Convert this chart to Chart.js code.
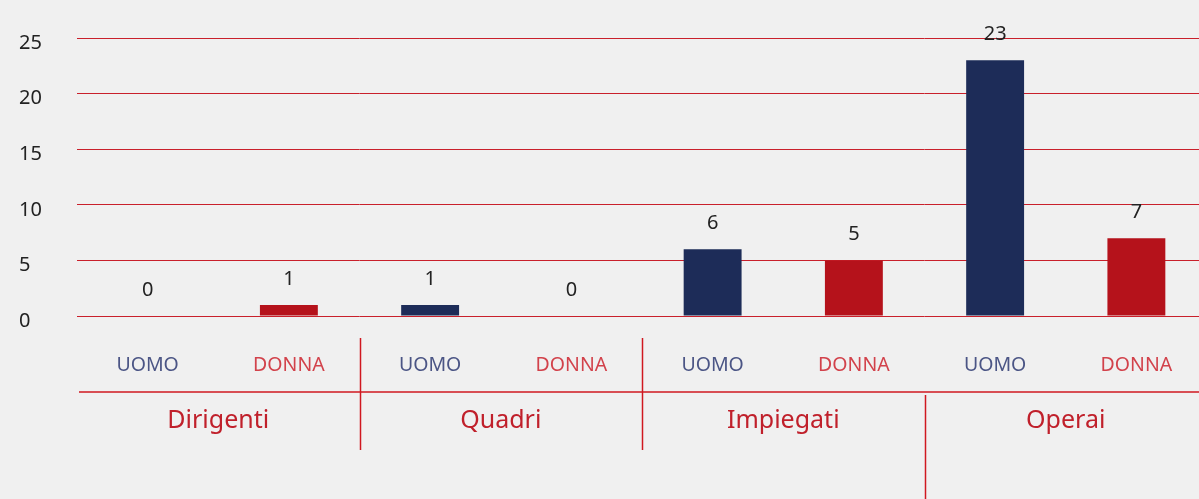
<!DOCTYPE html>
<html>
<head>
<meta charset="utf-8">
<script src="https://cdn.jsdelivr.net/npm/chart.js@4.4.1/dist/chart.umd.min.js"></script>
<style>
  html, body { margin: 0; padding: 0; background: #f0f0f0; overflow: hidden; }
  #wrap { width: 1210px; height: 499px; }
</style>
</head>
<body>
<div id="wrap"><canvas id="staffChart" width="1210" height="499"></canvas></div>
<script>
// Dati del grafico
const groups = ['Dirigenti', 'Quadri', 'Impiegati', 'Operai'];
const sexes = ['UOMO', 'DONNA'];
const uomo = [0, 1, 6, 23];
const donna = [1, 0, 5, 7];
const yTicks = [0, 5, 10, 15, 20, 25];

const navy = '#1d2c58';
const red = '#b5121b';
const lineRed = '#c9202b';

// etichette e valori alternati uomo/donna
const labels = [];
const values = [];
const colors = [];
groups.forEach((g, i) => {
    labels.push(sexes[0]); values.push(uomo[i]); colors.push(navy);
    labels.push(sexes[1]); values.push(donna[i]); colors.push(red);
});

const font = '"Noto Sans", sans-serif';

// disegna valori, etichette asse x e separatori
const extrasPlugin = {
    id: 'extras',
    afterDatasetsDraw(chart) {
        const ctx = chart.ctx;
        const x = chart.scales.x;
        const area = chart.chartArea;
        const meta = chart.getDatasetMeta(0);
        ctx.save();

        // valori sopra le barre
        ctx.font = '20px ' + font;
        ctx.fillStyle = '#222';
        ctx.textAlign = 'center';
        ctx.textBaseline = 'middle';
        meta.data.forEach((bar, i) => {
            ctx.fillText(String(values[i]), bar.x, bar.y - 26);
        });

        // UOMO / DONNA
        ctx.font = '19.5px ' + font;
        labels.forEach((l, i) => {
            ctx.fillStyle = l === 'UOMO' ? '#4b5585' : '#d2424b';
            ctx.fillText(l, x.getPixelForValue(i), area.bottom + 49);
        });

        // linee separatrici
        ctx.strokeStyle = '#d01820';
        ctx.lineWidth = 1.5;
        const hy = area.bottom + 76;
        ctx.beginPath();
        ctx.moveTo(area.left + 2, hy);
        ctx.lineTo(chart.width, hy);
        ctx.stroke();
        for (let g = 1; g < groups.length; g++) {
            const bx = Math.round((x.getPixelForValue(2 * g - 1) + x.getPixelForValue(2 * g)) / 2) + 0.5;
            const last = g === groups.length - 1;
            ctx.beginPath();
            ctx.moveTo(bx, last ? hy + 3 : area.bottom + 22);
            ctx.lineTo(bx, last ? chart.height : area.bottom + 134);
            ctx.stroke();
        }

        // nomi dei gruppi
        ctx.font = '25px ' + font;
        ctx.fillStyle = '#c0202b';
        groups.forEach((g, i) => {
            const cx = (x.getPixelForValue(2 * i) + x.getPixelForValue(2 * i + 1)) / 2;
            ctx.fillText(g, cx, area.bottom + 105);
        });
        ctx.restore();
    }
};

const config = {
    type: 'bar',
    data: {
        labels: labels,
        datasets: [{
            data: values,
            backgroundColor: colors,
            borderWidth: 0,
            barPercentage: 0.41,
            categoryPercentage: 1
        }]
    },
    options: {
        responsive: false,
        animation: false,
        layout: { padding: { left: 19, top: 38, right: 3, bottom: 183 } },
        plugins: {
            legend: { display: false },
            tooltip: { enabled: false }
        },
        scales: {
            x: { display: false },
            y: {
                min: 0,
                max: 25,
                afterBuildTicks(scale) {
                    scale.ticks = yTicks.map(v => ({ value: v }));
                },
                afterFit(scale) { scale.width = 58; },
                border: { display: false },
                grid: { color: lineRed, lineWidth: 1, drawTicks: false },
                ticks: {
                    crossAlign: 'far',
                    padding: 0,
                    labelOffset: 5,
                    color: '#222',
                    font: { family: font, size: 20 }
                }
            }
        }
    },
    plugins: [extrasPlugin]
};

window.onload = function() {
    const ctx = document.getElementById('staffChart').getContext('2d');
    new Chart(ctx, config);
};
</script>
</body>
</html>
